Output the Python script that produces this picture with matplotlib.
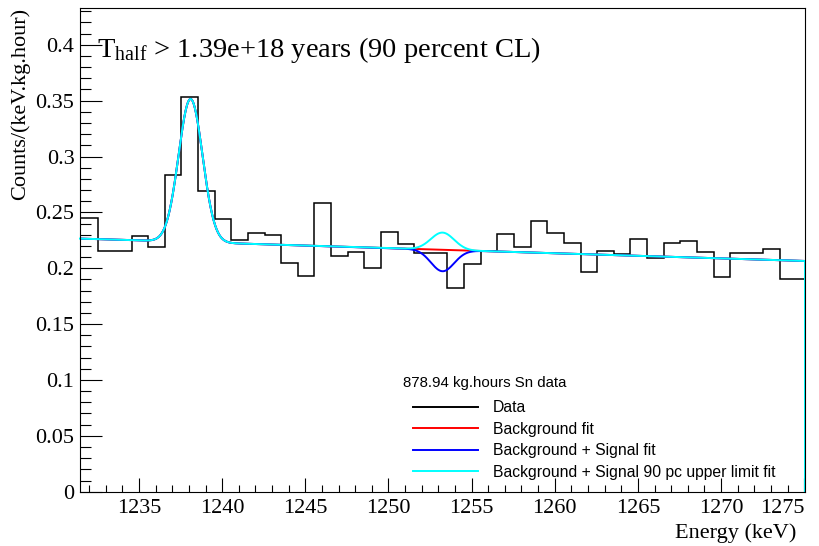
import numpy as np
import matplotlib
matplotlib.use("Agg")
import matplotlib.pyplot as plt
from matplotlib.ticker import MultipleLocator, FuncFormatter
from matplotlib.lines import Line2D

plt.rcParams['mathtext.fontset'] = 'custom'
plt.rcParams['mathtext.rm'] = 'Liberation Serif'
plt.rcParams['mathtext.it'] = 'Liberation Serif:italic'

# ---------------- data ----------------
x_min, x_max = 1231.45, 1275.05
y_max = 0.433
bin_start = 1231.55
bin_width = 1.0
counts = [0.2448, 0.2155, 0.2155, 0.2286, 0.2193, 0.2838, 0.3531, 0.2689,
          0.2439, 0.2251, 0.2316, 0.2301, 0.2045, 0.1931, 0.2587, 0.2113,
          0.2149, 0.2000, 0.2325, 0.2220, 0.2140, 0.2140, 0.1824, 0.2041,
          0.2158, 0.2304, 0.2191, 0.2426, 0.2316, 0.2227, 0.1970, 0.2152,
          0.2125, 0.2260, 0.2095, 0.2227, 0.2242, 0.2149, 0.1925, 0.2140,
          0.2140, 0.2170, 0.1907, 0.1907]

# background (linear) parameters
bkg_at_1250 = 0.2180
bkg_slope = -0.000459
# known peak
peak_mean = 1238.1
peak_amp = 0.128
peak_sigma = 0.72
# signal peak
sig_mean = 1253.25
sig_sigma = 0.70
sig_amp_fit = -0.0192
sig_amp_limit = 0.0154

x_ticks = [1235, 1240, 1245, 1250, 1255, 1260, 1265, 1270, 1275]
title = r"T$_{\mathrm{half}}$ > 1.39e+18 years (90 percent CL)"
legend_header = "878.94 kg.hours Sn data"
legend_labels = ["Data", "Background fit", "Background + Signal fit",
                 "Background + Signal 90 pc upper limit fit"]
x_label = "Energy (keV)"
y_label = "Counts/(keV.kg.hour)"

# ---------------- figure ----------------
fig = plt.figure(figsize=(8.2, 5.46), dpi=100)
ax = fig.add_axes([80/820, 1-491.7/546, 725/820, (491.7-7.9)/546])

edges = bin_start + bin_width*np.arange(len(counts)+1)
edges[0] = x_min
edges[-1] = x_max
ax.stairs(counts, edges, baseline=None, color='black', lw=1.1)

E = np.linspace(x_min, x_max, 3000)
def gauss(x, m, s):
    return np.exp(-0.5*((x-m)/s)**2)
bkg = bkg_at_1250 + bkg_slope*(E-1250)
base = bkg + peak_amp*gauss(E, peak_mean, peak_sigma)
f_red = base
f_blue = base + sig_amp_fit*gauss(E, sig_mean, sig_sigma)
f_cyan = base + sig_amp_limit*gauss(E, sig_mean, sig_sigma)

ax.plot(E, f_red, color='red', lw=1.4)
ax.plot(E, f_blue, color='blue', lw=1.4)
ax.plot(np.r_[E, x_max], np.r_[f_cyan, 0.0], color='cyan', lw=1.4, clip_on=False)

ax.set_xlim(x_min, x_max)
ax.set_ylim(0, y_max)

ax.set_xticks(x_ticks, [str(t) for t in x_ticks])
ax.xaxis.set_minor_locator(MultipleLocator(1))
ax.yaxis.set_major_locator(MultipleLocator(0.05))
ax.yaxis.set_minor_locator(MultipleLocator(0.01))
ax.yaxis.set_major_formatter(FuncFormatter(lambda v, p: "%g" % round(v, 4)))

ax.tick_params(axis='x', which='major', direction='in', length=10.4, width=0.8,
               labelsize=16, pad=5)
ax.tick_params(axis='x', which='minor', direction='in', length=5.2, width=0.8)
ax.tick_params(axis='y', which='major', direction='in', length=15.6, width=0.8,
               labelsize=16, pad=4)
ax.tick_params(axis='y', which='minor', direction='in', length=7.8, width=0.8)
for lab in ax.get_xticklabels() + ax.get_yticklabels():
    lab.set_fontfamily('Liberation Serif')
for lab in ax.get_xticklabels():
    if lab.get_text() == str(x_ticks[-1]):
        lab.set_horizontalalignment('right')
for sp in ax.spines.values():
    sp.set_linewidth(0.8)

ax.text(0.023, 0.8985, title, transform=ax.transAxes, fontsize=20.5,
        family='Liberation Serif', va='baseline', ha='left')

fig.text(796/820, 1-543/546, x_label, ha='right', va='bottom', fontsize=16,
         family='Liberation Serif')
fig.text(20/820, 1-8/546, y_label, ha='center', va='top', rotation=90,
         fontsize=16, family='Liberation Serif')

ax.text(0.4455, 0.2247, legend_header, transform=ax.transAxes, fontsize=10.8,
        family='Liberation Sans', va='center', ha='left')
handles = [Line2D([], [], color=c, lw=1.4) for c in ['black', 'red', 'blue', 'cyan']]
leg = ax.legend(handles, legend_labels, loc='upper left',
                bbox_to_anchor=(0.4593, 0.1895), frameon=False,
                prop={'family': 'Liberation Sans', 'size': 11.3},
                handlelength=4.14, handletextpad=0.95, labelspacing=0.42,
                borderpad=0, borderaxespad=0)

fig.savefig("out.png", dpi=100)
